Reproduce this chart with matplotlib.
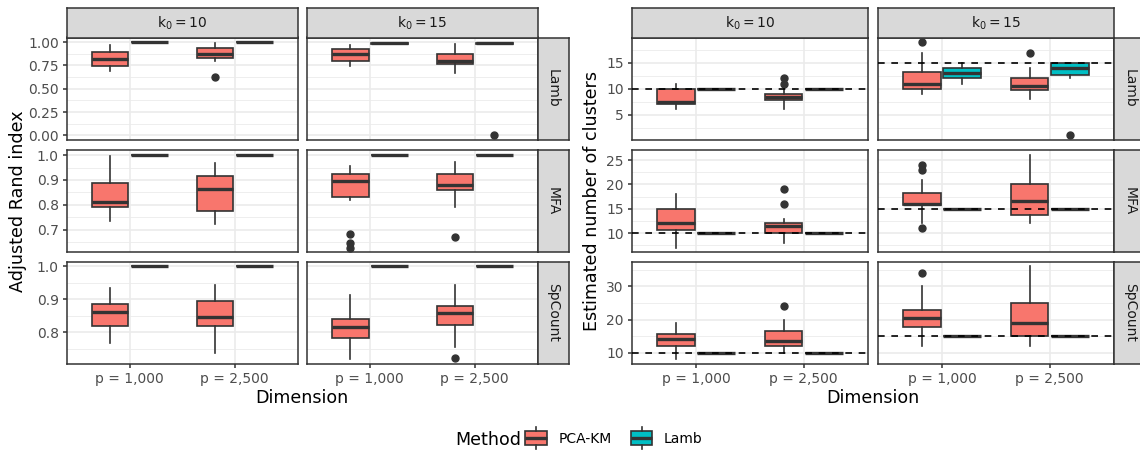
import matplotlib
matplotlib.use("Agg")
import matplotlib.pyplot as plt
from matplotlib.patches import Rectangle
from matplotlib.ticker import MultipleLocator, AutoMinorLocator, FormatStrFormatter, NullLocator, FixedLocator

plt.rcParams['font.family'] = ['DejaVu Sans']
plt.rcParams['mathtext.fontset'] = 'dejavusans'

# ---------------- data ----------------
scenarios = ["Lamb", "MFA", "SpCount"]
k0_values = [10, 15]
dimensions = ["p = 1,000", "p = 2,500"]
methods = ["PCA-KM", "Lamb"]
method_colors = ["#F8766D", "#00BFC4"]

# cell order: scenario (Lamb, MFA, SpCount) x k0 (10, 15) x dimension (1,000, 2,500)
# --- Adjusted Rand index, PCA-KM ---
ari_pcakm_lo  = [0.690, 0.800, 0.743, 0.672,  0.737, 0.724, 0.820, 0.792,  0.768, 0.735, 0.717, 0.754]
ari_pcakm_q1  = [0.745, 0.829, 0.800, 0.768,  0.793, 0.774, 0.830, 0.861,  0.820, 0.820, 0.782, 0.822]
ari_pcakm_med = [0.816, 0.876, 0.876, 0.800,  0.813, 0.864, 0.896, 0.881,  0.860, 0.845, 0.815, 0.857]
ari_pcakm_q3  = [0.894, 0.936, 0.925, 0.876,  0.887, 0.917, 0.925, 0.925,  0.886, 0.894, 0.839, 0.878]
ari_pcakm_hi  = [0.970, 0.994, 0.968, 0.979,  0.996, 0.968, 0.958, 0.972,  0.933, 0.944, 0.913, 0.943]
ari_pcakm_out = [[], [0.622], [], [],  [], [], [0.684, 0.647, 0.627], [0.670],  [], [], [], [0.722]]
# --- Adjusted Rand index, Lamb ---
ari_lamb_lo  = [1.0, 1.0, 0.985, 0.985,  1.0, 1.0, 1.0, 1.0,  1.0, 1.0, 1.0, 1.0]
ari_lamb_q1  = [1.0, 1.0, 0.985, 0.985,  1.0, 1.0, 1.0, 1.0,  1.0, 1.0, 1.0, 1.0]
ari_lamb_med = [1.0, 1.0, 0.990, 0.990,  1.0, 1.0, 1.0, 1.0,  1.0, 1.0, 1.0, 1.0]
ari_lamb_q3  = [1.0, 1.0, 0.995, 0.995,  1.0, 1.0, 1.0, 1.0,  1.0, 1.0, 1.0, 1.0]
ari_lamb_hi  = [1.0, 1.0, 0.995, 0.995,  1.0, 1.0, 1.0, 1.0,  1.0, 1.0, 1.0, 1.0]
ari_lamb_out = [[], [], [], [0.0],  [], [], [], [],  [], [], [], []]

# --- Estimated number of clusters, PCA-KM ---
k_pcakm_lo  = [6, 6, 9, 8,  7, 8, 12, 12,  8, 10, 12, 12]
k_pcakm_q1  = [7, 7.75, 10, 9.75,  10.75, 10, 15.75, 13.75,  12, 12, 17.75, 15]
k_pcakm_med = [7.5, 8.5, 11, 10.5,  12, 11.5, 16, 16.5,  14, 13.5, 20.5, 19]
k_pcakm_q3  = [10, 9, 13.25, 12,  15, 12, 18.25, 20,  15.5, 16.5, 23, 25]
k_pcakm_hi  = [11, 10, 17, 14,  18, 13, 21, 26,  19, 20, 30, 36]
k_pcakm_out = [[], [11, 12], [19], [17],  [], [16, 19], [11, 23, 24], [],  [], [24], [34], []]
# --- Estimated number of clusters, Lamb ---
k_lamb_lo  = [10, 10, 11, 12,  10, 10, 15, 15,  10, 10, 15, 15]
k_lamb_q1  = [10, 10, 12, 12.75,  10, 10, 15, 15,  10, 10, 15, 15]
k_lamb_med = [10, 10, 13, 14,  10, 10, 15, 15,  10, 10, 15, 15]
k_lamb_q3  = [10, 10, 14, 15,  10, 10, 15, 15,  10, 10, 15, 15]
k_lamb_hi  = [10, 10, 15, 15,  10, 10, 15, 15,  10, 10, 15, 15]
k_lamb_out = [[], [], [], [1],  [], [], [], [],  [], [], [], []]

ari_major_step = [0.25, 0.1, 0.1]
ari_fmt = ['%.2f', '%.1f', '%.1f']
k_major_step = [5, 5, 10]
k_fmt = ['%d', '%d', '%d']

# ---------------- layout (pixels) ----------------
W, H = 1140, 451
fig = plt.figure(figsize=(W / 100, H / 100), dpi=100)

DARK = '#333333'
GRID = '#EBEBEB'
STRIP = '#D9D9D9'

def px_axes(x0, y0, x1, y1, **kw):
    return fig.add_axes([x0 / W, 1 - y1 / H, (x1 - x0) / W, (y1 - y0) / H], **kw)

overlay = px_axes(0, 0, W, H)
overlay.set_xlim(0, W)
overlay.set_ylim(H, 0)
overlay.axis('off')

rows_y = [(37.5, 140.0), (150.5, 252.5), (261.8, 364.0)]
strip_top = (8.3, 37.5)


def make_stats(lo, q1, med, q3, hi, out, i):
    return dict(whislo=lo[i], q1=q1[i], med=med[i], q3=q3[i], whishi=hi[i], fliers=list(out[i]))


def draw_chart(cols_x, strip_x, title_x, ylabel, series, steps, fmts, truth):
    for r in range(3):
        # shared free-y range per row (5% expansion like ggplot)
        vals = []
        for s in series:
            lo, q1, med, q3, hi, out = s
            for c in range(2):
                for d in range(2):
                    i = r * 4 + c * 2 + d
                    vals += [lo[i], hi[i]] + list(out[i])
        vmin, vmax = min(vals), max(vals)
        pad = 0.05 * (vmax - vmin)
        ylim = (vmin - pad, vmax + pad)
        for c in range(2):
            ax = px_axes(cols_x[c][0], rows_y[r][0], cols_x[c][1], rows_y[r][1])
            ax.set_axisbelow(True)
            for m, s in enumerate(series):
                lo, q1, med, q3, hi, out = s
                stats = [make_stats(lo, q1, med, q3, hi, out, r * 4 + c * 2 + d) for d in range(2)]
                offs = -0.1875 if m == 0 else 0.1875
                ax.bxp(stats, positions=[1 + offs, 2 + offs], widths=0.35,
                       patch_artist=True, showcaps=False, manage_ticks=False,
                       boxprops=dict(facecolor=method_colors[m], edgecolor=DARK, linewidth=1.2),
                       whiskerprops=dict(color=DARK, linewidth=1.2),
                       medianprops=dict(color=DARK, linewidth=2.4, solid_capstyle='butt'),
                       flierprops=dict(marker='o', markersize=5, markerfacecolor=DARK,
                                       markeredgecolor=DARK, linestyle='none'))
            if truth:
                ax.axhline(k0_values[c], color='black', linewidth=1.2,
                           linestyle=(0, (4, 4)), zorder=6)
            ax.set_xlim(0.4, 2.6)
            ax.set_ylim(*ylim)
            ax.xaxis.set_major_locator(FixedLocator([1, 2]))
            ax.xaxis.set_minor_locator(NullLocator())
            ax.yaxis.set_major_locator(MultipleLocator(steps[r]))
            ax.yaxis.set_minor_locator(AutoMinorLocator(2))
            ax.yaxis.set_major_formatter(FormatStrFormatter(fmts[r]))
            ax.grid(True, which='major', color=GRID, linewidth=1.2)
            ax.grid(True, which='minor', axis='y', color=GRID, linewidth=0.6)
            ax.tick_params(which='minor', length=0)
            ax.tick_params(which='major', length=3.2, width=1.1, color=DARK,
                           labelcolor='#4D4D4D', labelsize=10, pad=2.5)
            if r == 2:
                ax.set_xticklabels(dimensions)
            else:
                ax.tick_params(axis='x', length=0, labelbottom=False)
            if c == 1:
                ax.tick_params(axis='y', length=0, labelleft=False)
            for sp in ax.spines.values():
                sp.set_color(DARK)
                sp.set_linewidth(1.1)
            # row strip
            if c == 1:
                sa = px_axes(strip_x[0], rows_y[r][0], strip_x[1], rows_y[r][1])
                sa.set_facecolor(STRIP)
                sa.set_xticks([]); sa.set_yticks([])
                for sp in sa.spines.values():
                    sp.set_color(DARK); sp.set_linewidth(1.1)
                sa.text(0.5, 0.5, scenarios[r], rotation=-90, ha='center', va='center',
                        fontsize=10, color='#1A1A1A', transform=sa.transAxes)
    # column strips
    for c in range(2):
        sa = px_axes(cols_x[c][0], strip_top[0], cols_x[c][1], strip_top[1])
        sa.set_facecolor(STRIP)
        sa.set_xticks([]); sa.set_yticks([])
        for sp in sa.spines.values():
            sp.set_color(DARK); sp.set_linewidth(1.1)
        sa.text(0.5, 0.5, r'$\mathregular{k_0 = %d}$' % k0_values[c], ha='center', va='center',
                fontsize=10, color='#1A1A1A', transform=sa.transAxes)
    # titles
    overlay.text(title_x, (rows_y[0][0] + rows_y[2][1]) / 2, ylabel, rotation=90,
                 ha='center', va='center', fontsize=12.6, color='black')
    overlay.text((cols_x[0][0] + cols_x[1][1]) / 2, 403.3, 'Dimension', ha='center',
                 va='baseline', fontsize=12.6, color='black')


ari_series = [
    (ari_pcakm_lo, ari_pcakm_q1, ari_pcakm_med, ari_pcakm_q3, ari_pcakm_hi, ari_pcakm_out),
    (ari_lamb_lo, ari_lamb_q1, ari_lamb_med, ari_lamb_q3, ari_lamb_hi, ari_lamb_out),
]
k_series = [
    (k_pcakm_lo, k_pcakm_q1, k_pcakm_med, k_pcakm_q3, k_pcakm_hi, k_pcakm_out),
    (k_lamb_lo, k_lamb_q1, k_lamb_med, k_lamb_q3, k_lamb_hi, k_lamb_out),
]

draw_chart([(66.8, 297.6), (307.0, 537.5)], (537.5, 568.5), 18,
           'Adjusted Rand index', ari_series, ari_major_step, ari_fmt, truth=False)
draw_chart([(631.5, 868.3), (877.5, 1114.4)], (1114.4, 1145.4), 592,
           'Estimated number of clusters', k_series, k_major_step, k_fmt, truth=True)

# ---------------- legend ----------------
overlay.text(455, 445, 'Method', ha='left', va='baseline', fontsize=12.6, color='black')
key_x = [525.0, 630.7]
label_x = [559.0, 664.0]
for m in range(2):
    x0 = key_x[m]
    w, hgt = 21.7, 14.3
    y0 = 430.7
    cx = x0 + w / 2
    overlay.plot([cx, cx], [426.7, y0], color=DARK, linewidth=1.2)
    overlay.plot([cx, cx], [y0 + hgt, 449.0], color=DARK, linewidth=1.2)
    overlay.add_patch(Rectangle((x0, y0), w, hgt, facecolor=method_colors[m],
                                edgecolor=DARK, linewidth=1.2))
    overlay.plot([x0, x0 + w], [y0 + hgt / 2, y0 + hgt / 2], color=DARK, linewidth=2.4,
                 solid_capstyle='butt')
    overlay.text(label_x[m], 443.3, methods[m], ha='left', va='baseline', fontsize=10,
                 color='black')

fig.savefig('out.png', dpi=100)
